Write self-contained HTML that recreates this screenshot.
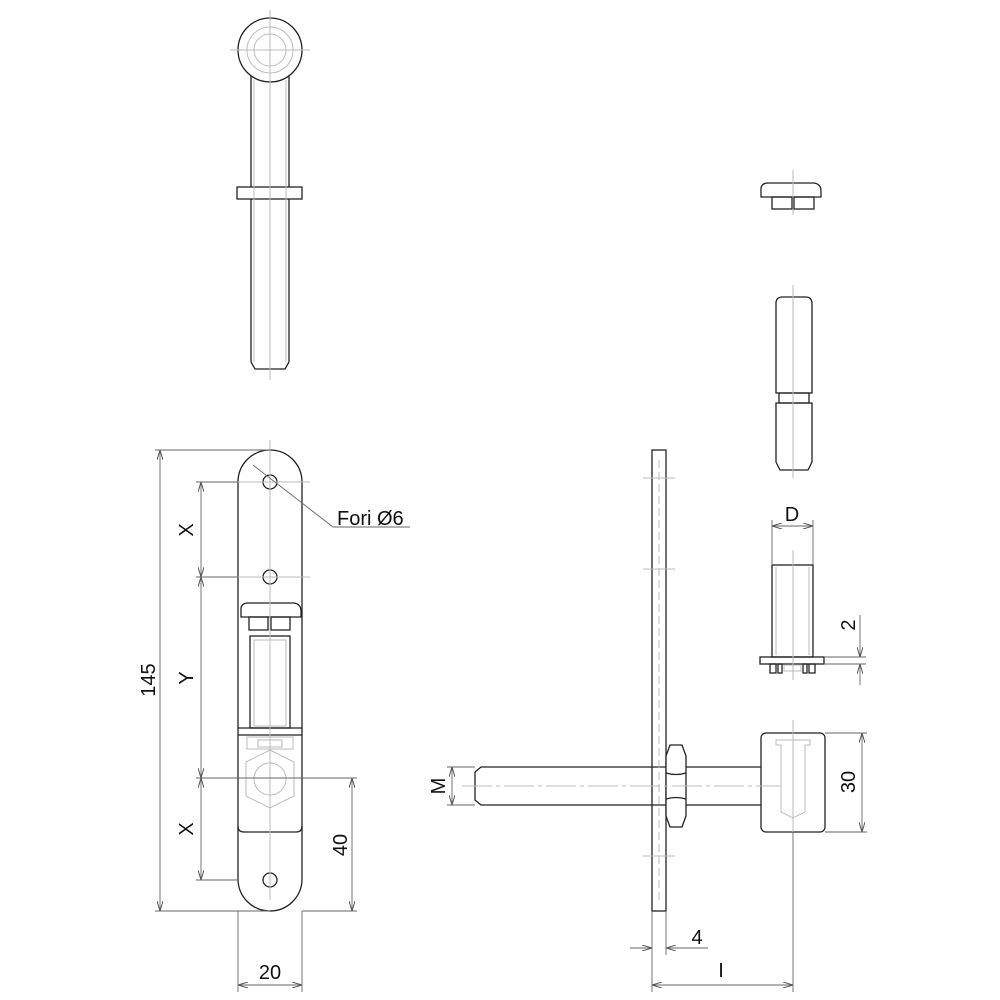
<!DOCTYPE html>
<html><head><meta charset="utf-8"><style>
html,body{margin:0;padding:0;background:#fff}
svg{display:block}
text{font-family:"Liberation Sans",sans-serif;fill:#111}
</style></head><body>
<svg width="1000" height="1000" viewBox="0 0 1000 1000" xmlns="http://www.w3.org/2000/svg">
<defs>
<marker id="a" viewBox="0 0 10 6" refX="10" refY="3" markerWidth="10" markerHeight="6" orient="auto-start-reverse" markerUnits="userSpaceOnUse"><path d="M0,0 L10,3 L0,6" fill="none" stroke="#555" stroke-width="1"/></marker>
</defs>
<g fill="none" stroke="#222" stroke-width="1.3">
<!-- top bolt -->
<line x1="251" y1="72" x2="251" y2="362"/><line x1="289" y1="72" x2="289" y2="362"/>
<path d="M251,362 L255,369 L285,369 L289,362"/>
<circle cx="270" cy="50" r="32" fill="#fff"/>
<rect x="237" y="187" width="65" height="12" fill="#fff"/>
</g>
<g fill="none" stroke="#bbb" stroke-width="1">
<circle cx="270" cy="50" r="23"/><circle cx="270" cy="50" r="16"/>
<line x1="230" y1="50" x2="310" y2="50"/><line x1="270" y1="10" x2="270" y2="380"/>
<line x1="254" y1="80" x2="254" y2="362"/><line x1="286" y1="80" x2="286" y2="362"/>
</g>
<!-- cap top right -->
<g fill="none" stroke="#222" stroke-width="1.3">
<path d="M761,197 L761,188 Q762,183 768,183 L814,183 Q821,184 821,191 L821,197 Z"/>
<rect x="772" y="197" width="20" height="12"/><rect x="794" y="197" width="20" height="12"/>
<!-- pin -->
<path d="M776,393 L776,302 Q777,297 782,297 L806,297 Q811,297 812,302 L812,393 Z"/>
<rect x="779" y="393" width="30" height="10"/>
<path d="M776,403 L812,403 L812,462 L808,470 L780,470 L776,462 Z"/>
</g>
<g stroke="#bbb" stroke-width="1"><line x1="793" y1="170" x2="793" y2="215"/><line x1="793" y1="285" x2="793" y2="478"/></g>

<!-- left plate -->
<g fill="none" stroke="#222" stroke-width="1.3">
<path d="M238,482 A32,32 0 0 1 302,482 L302,879 A32,32 0 0 1 238,879 Z"/>
<circle cx="270" cy="482" r="7"/><circle cx="270" cy="577" r="7"/><circle cx="270" cy="880" r="7"/>
<path d="M241,617 L241,608 Q242,603 248,603 L294,603 Q301,604 301,611 L301,617 Z"/>
<rect x="249" y="617" width="19" height="13"/><rect x="271" y="617" width="19" height="13"/>
<rect x="250" y="636" width="40" height="92"/>
<line x1="238" y1="728" x2="302" y2="728"/><line x1="238" y1="735" x2="302" y2="735"/>
<path d="M238,826 Q238,832 244,832 L296,832 Q302,832 302,826"/>
</g>
<g fill="none" stroke="#bbb" stroke-width="1">
<rect x="254" y="640" width="32" height="86"/>
<rect x="247" y="737" width="46" height="12"/><rect x="258" y="740" width="24" height="7"/>
<polygon points="270,750 294,762 294,796 270,808 246,796 246,762"/>
<circle cx="270" cy="779" r="16"/>
<line x1="270" y1="440" x2="270" y2="900"/>
<line x1="200" y1="482" x2="310" y2="482"/><line x1="200" y1="577" x2="310" y2="577"/>
</g>
<!-- dims left -->
<g stroke="#666" stroke-width="0.9" fill="none">
<line x1="155" y1="450" x2="270" y2="450"/><line x1="155" y1="911" x2="270" y2="911"/>
<line x1="160" y1="450" x2="160" y2="911" marker-start="url(#a)" marker-end="url(#a)"/>
<line x1="196" y1="482" x2="238" y2="482"/><line x1="196" y1="577" x2="238" y2="577"/>
<line x1="196" y1="778" x2="357" y2="778"/><line x1="196" y1="880" x2="238" y2="880"/>
<line x1="201" y1="482" x2="201" y2="577" marker-start="url(#a)" marker-end="url(#a)"/>
<line x1="201" y1="577" x2="201" y2="778" marker-start="url(#a)" marker-end="url(#a)"/>
<line x1="201" y1="778" x2="201" y2="880" marker-start="url(#a)" marker-end="url(#a)"/>
<line x1="302" y1="911" x2="357" y2="911"/>
<line x1="352" y1="778" x2="352" y2="911" marker-start="url(#a)" marker-end="url(#a)"/>
<line x1="238" y1="911" x2="238" y2="992"/><line x1="302" y1="911" x2="302" y2="992"/>
<line x1="238" y1="985" x2="302" y2="985" marker-start="url(#a)" marker-end="url(#a)"/>
<line x1="253" y1="465" x2="333" y2="527"/><line x1="333" y1="527" x2="410" y2="527"/>
</g>
<text x="0" y="0" font-size="20" transform="translate(155,680) rotate(-90)" text-anchor="middle">145</text>
<text x="0" y="0" font-size="20" transform="translate(193,530) rotate(-90)" text-anchor="middle">X</text>
<text x="0" y="0" font-size="20" transform="translate(193,678) rotate(-90)" text-anchor="middle">Y</text>
<text x="0" y="0" font-size="20" transform="translate(193,829) rotate(-90)" text-anchor="middle">X</text>
<text x="0" y="0" font-size="20" transform="translate(347,845) rotate(-90)" text-anchor="middle">40</text>
<text x="270" y="979" font-size="20" text-anchor="middle">20</text>
<text x="337" y="525" font-size="20">Fori Ø6</text>

<!-- right view -->
<g fill="none" stroke="#222" stroke-width="1.3">
<rect x="652" y="450" width="14" height="461" fill="#fff"/>
<path d="M666,767 L481,767 L475,772 L475,800 L481,805 L666,805"/>
<path d="M685,767 L768,767 Q764,786 768,805 L685,805"/>
<path d="M670,745 L682,745 L686,756 L686,816 L682,827 L670,827 L666,816 L666,756 Z" fill="#fff"/>
<path d="M666,773 Q676,776 686,773 M666,799 Q676,796 686,799"/>
<rect x="761" y="733" width="64" height="99" rx="5" fill="#fff"/>
<rect x="772" y="565" width="41" height="92"/>
<rect x="760" y="657" width="64" height="7"/>
<rect x="770" y="664" width="6" height="9"/><rect x="778" y="664" width="4" height="9"/><rect x="803" y="664" width="4" height="9"/><rect x="809" y="664" width="6" height="9"/>
</g>
<g fill="none" stroke="#bbb" stroke-width="1">
<line x1="462" y1="786" x2="780" y2="786" stroke-dasharray="30,4,4,4"/>
<line x1="793" y1="720" x2="793" y2="832"/>
<path d="M776,740 L810,740 L810,745 L805,745 L805,812 L793,818 L781,812 L781,745 L776,745 Z"/>
<line x1="776" y1="567" x2="776" y2="655"/><line x1="809" y1="567" x2="809" y2="655"/>
<line x1="793" y1="550" x2="793" y2="680"/>
<rect x="784" y="665" width="17" height="6"/>
<line x1="643" y1="478" x2="675" y2="478"/><line x1="643" y1="569" x2="675" y2="569"/><line x1="643" y1="856" x2="675" y2="856"/>
<line x1="659" y1="460" x2="659" y2="900" stroke-dasharray="8,4"/>
</g>
<g stroke="#666" stroke-width="0.9" fill="none">
<line x1="447" y1="767" x2="475" y2="767"/><line x1="447" y1="805" x2="475" y2="805"/>
<line x1="452" y1="767" x2="452" y2="805" marker-start="url(#a)" marker-end="url(#a)"/>
<line x1="825" y1="733" x2="867" y2="733"/><line x1="825" y1="832" x2="867" y2="832"/>
<line x1="862" y1="733" x2="862" y2="832" marker-start="url(#a)" marker-end="url(#a)"/>
<line x1="652" y1="911" x2="652" y2="992"/><line x1="666" y1="911" x2="666" y2="955"/>
<line x1="630" y1="948" x2="652" y2="948" marker-end="url(#a)"/>
<line x1="688" y1="948" x2="666" y2="948" marker-end="url(#a)"/>
<line x1="666" y1="948" x2="708" y2="948"/>
<line x1="793" y1="832" x2="793" y2="992"/>
<line x1="652" y1="985" x2="793" y2="985" marker-start="url(#a)" marker-end="url(#a)"/>
<line x1="772" y1="520" x2="772" y2="565"/><line x1="813" y1="520" x2="813" y2="565"/>
<line x1="772" y1="526" x2="813" y2="526" marker-start="url(#a)" marker-end="url(#a)"/>
<line x1="824" y1="657" x2="866" y2="657"/><line x1="824" y1="664" x2="866" y2="664"/>
<line x1="860" y1="615" x2="860" y2="657" marker-end="url(#a)"/>
<line x1="860" y1="685" x2="860" y2="664" marker-end="url(#a)"/>
</g>
<text x="0" y="0" font-size="20" transform="translate(445,786) rotate(-90)" text-anchor="middle">M</text>
<text x="0" y="0" font-size="20" transform="translate(855,782) rotate(-90)" text-anchor="middle">30</text>
<text x="0" y="0" font-size="20" transform="translate(855,625) rotate(-90)" text-anchor="middle">2</text>
<text x="792" y="521" font-size="20" text-anchor="middle">D</text>
<text x="697" y="944" font-size="20" text-anchor="middle">4</text>
<text x="721" y="977" font-size="20" text-anchor="middle">I</text>
</svg>
</body></html>
